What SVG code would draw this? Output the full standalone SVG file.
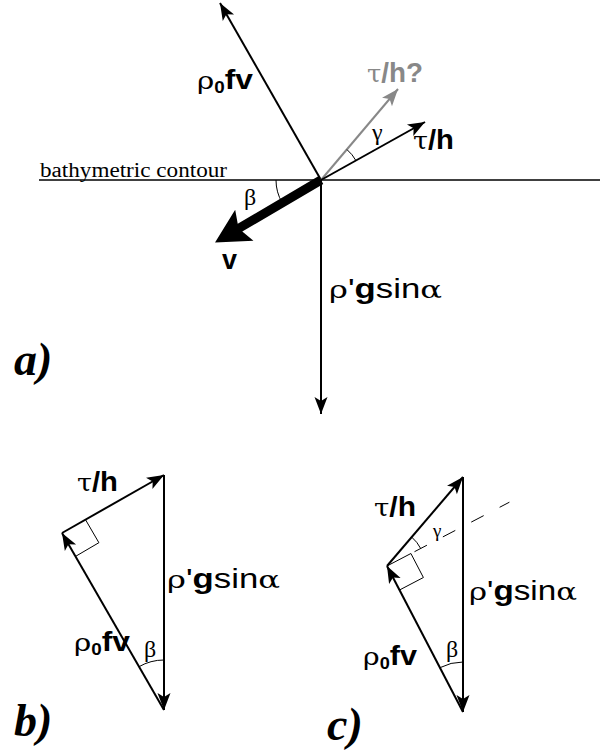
<svg xmlns="http://www.w3.org/2000/svg" width="600" height="753" viewBox="0 0 600 753">
<style>
.ln{stroke:#000;stroke-width:2;fill:none}
.thin{stroke:#000;stroke-width:1;fill:none}
.lbl{font-family:"Liberation Sans",Arial,sans-serif;font-size:27px;fill:#000}
.b{font-weight:bold}
.gk{font-family:"DejaVu Serif","Liberation Serif",serif;font-weight:normal;font-size:25px}
.sub{font-size:16px;font-weight:bold}
.ang{font-family:"Liberation Serif","Times New Roman",serif;font-size:24px;fill:#000}
.pl{font-family:"Liberation Serif","Times New Roman",serif;font-size:46px;font-weight:bold;font-style:italic;fill:#000}
</style>
<defs>
<marker id="ah" markerUnits="userSpaceOnUse" markerWidth="20" markerHeight="16" viewBox="-18 -8 20 16" refX="0" refY="0" orient="auto">
<path d="M0,0 L-17,-6.5 L-13,0 L-17,6.5 Z" fill="#000"/>
</marker>
<marker id="ahg" markerUnits="userSpaceOnUse" markerWidth="20" markerHeight="16" viewBox="-18 -8 20 16" refX="0" refY="0" orient="auto">
<path d="M0,0 L-17,-6.5 L-13,0 L-17,6.5 Z" fill="#888"/>
</marker>
</defs>

<g id="panel-a">
<line x1="39" y1="180" x2="600" y2="180" stroke="#000" stroke-width="1.5"/>
<text x="40" y="177" font-family="Liberation Serif,'Times New Roman',serif" font-size="20" textLength="187" lengthAdjust="spacingAndGlyphs">bathymetric contour</text>
<g id="connectors-a">
<line class="ln" x1="321" y1="180" x2="220" y2="3" marker-end="url(#ah)"/>
<line x1="321" y1="180" x2="398" y2="89" stroke="#888" stroke-width="2" marker-end="url(#ahg)"/>
<line class="ln" x1="321" y1="180" x2="425" y2="122" marker-end="url(#ah)"/>
<line class="ln" x1="321" y1="180" x2="321" y2="414" marker-end="url(#ah)"/>
<path d="M0,-4.5 L94,-4.5 L89,-18 L123,0 L89,18 L94,4.5 L0,4.5 Z" transform="translate(321,180) rotate(149.5)" fill="#000"/>
<path class="thin" d="M356,160.7 A40,40 0 0 0 347,149.6"/>
<path class="thin" d="M276,180 A45,45 0 0 0 282.2,202.8"/>
</g>
<text class="lbl" x="197" y="89" textLength="56" lengthAdjust="spacingAndGlyphs"><tspan class="gk">ρ</tspan><tspan class="sub" dy="4">0</tspan><tspan class="b" dy="-4">fv</tspan></text>
<text class="lbl b" x="367" y="82" style="fill:#888" textLength="56" lengthAdjust="spacingAndGlyphs"><tspan class="gk">τ</tspan>/h?</text>
<text class="lbl b" x="413" y="149" textLength="41" lengthAdjust="spacingAndGlyphs"><tspan class="gk">τ</tspan>/h</text>
<text class="ang" x="372" y="140">γ</text>
<text class="ang" x="244" y="205">β</text>
<text class="lbl b" x="222" y="269">v</text>
<text class="lbl" x="329" y="298" textLength="113" lengthAdjust="spacingAndGlyphs"><tspan class="gk">ρ</tspan>'<tspan class="b">g</tspan>sin<tspan class="gk">α</tspan></text>
<text class="pl" x="14" y="375">a)</text>
</g>

<g id="panel-b">
<g id="connectors-b">
<line class="ln" x1="62" y1="533" x2="164" y2="475" marker-end="url(#ah)"/>
<line class="ln" x1="164" y1="710" x2="62" y2="533" marker-end="url(#ah)"/>
<line class="ln" x1="164" y1="475" x2="164" y2="710" marker-end="url(#ah)"/>
<path class="thin" d="M85.5,519.7 L98.9,542.7 L75.5,556.4"/>
<path class="thin" d="M164,660 A50,50 0 0 0 139,666.7"/>
</g>
<text class="lbl b" x="77" y="491" textLength="41" lengthAdjust="spacingAndGlyphs"><tspan class="gk">τ</tspan>/h</text>
<text class="lbl" x="74" y="651" textLength="56" lengthAdjust="spacingAndGlyphs"><tspan class="gk">ρ</tspan><tspan class="sub" dy="4">0</tspan><tspan class="b" dy="-4">fv</tspan></text>
<text class="ang" x="144" y="657">β</text>
<text class="lbl" x="167" y="588" textLength="113" lengthAdjust="spacingAndGlyphs"><tspan class="gk">ρ</tspan>'<tspan class="b">g</tspan>sin<tspan class="gk">α</tspan></text>
<text class="pl" x="14" y="736">b)</text>
</g>

<g id="panel-c">
<g id="connectors-c">
<line class="ln" x1="387" y1="566" x2="463" y2="477" marker-end="url(#ah)"/>
<line class="ln" x1="463" y1="712" x2="387" y2="566" marker-end="url(#ah)"/>
<line class="ln" x1="463" y1="477" x2="463" y2="712" marker-end="url(#ah)"/>
<path class="thin" d="M387,566 L410.9,553.5 L423.4,577.5 L399.5,590"/>
<line class="thin" x1="414.5" y1="551.7" x2="509.4" y2="502.2" stroke-dasharray="14 18"/>
<path class="thin" d="M411.7,537.1 A38,38 0 0 1 420.7,548.5"/>
<path class="thin" d="M463,662 A50,50 0 0 0 439.9,667.7"/>
</g>
<text class="lbl b" x="374" y="516" textLength="42" lengthAdjust="spacingAndGlyphs"><tspan class="gk">τ</tspan>/h</text>
<text class="ang" x="433" y="537" style="font-size:19px">γ</text>
<text class="lbl" x="363" y="665" textLength="54" lengthAdjust="spacingAndGlyphs"><tspan class="gk">ρ</tspan><tspan class="sub" dy="4">0</tspan><tspan class="b" dy="-4">fv</tspan></text>
<text class="ang" x="446" y="657">β</text>
<text class="lbl" x="469" y="600" textLength="108" lengthAdjust="spacingAndGlyphs"><tspan class="gk">ρ</tspan>'<tspan class="b">g</tspan>sin<tspan class="gk">α</tspan></text>
<text class="pl" x="327" y="740">c)</text>
</g>
</svg>
